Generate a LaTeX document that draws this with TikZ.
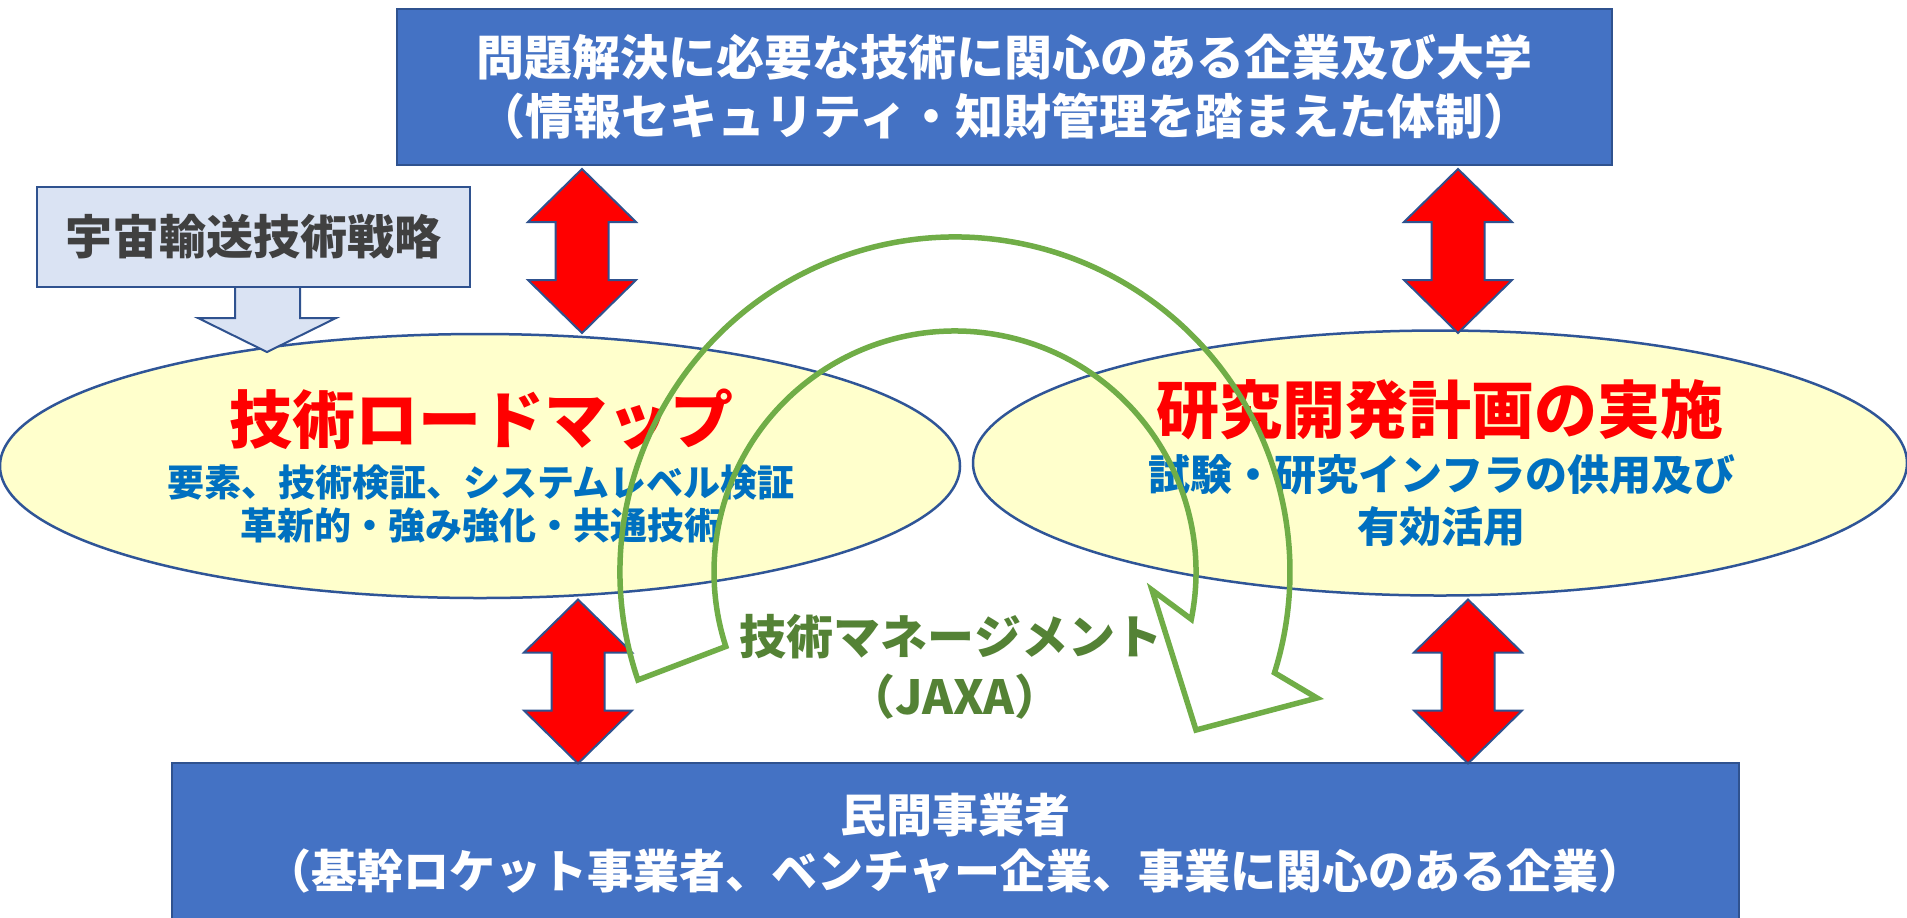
\documentclass[tikz,border=0pt]{standalone}
\usepackage{fontspec}
\setmainfont{Noto Sans CJK JP}
\usetikzlibrary{shapes.geometric,calc}
\definecolor{boxblue}{HTML}{4472C4}
\definecolor{boxline}{HTML}{2F528F}
\definecolor{ellfill}{HTML}{FFFFCC}
\definecolor{ellline}{HTML}{2F5597}
\definecolor{txtblue}{HTML}{0070C0}
\definecolor{gline}{HTML}{70AD47}
\definecolor{gtext}{HTML}{548235}
\definecolor{stratfill}{HTML}{DAE3F3}
\definecolor{strattext}{HTML}{404040}
\begin{document}
\begin{tikzpicture}[x=0.5pt,y=-0.5pt,
  bluebox/.style={draw=boxline, fill=boxblue, line width=1pt, inner sep=0pt},
  whitetxt/.style={text=white, align=center, inner sep=0pt, font=\fontsize{24pt}{29.5pt}\selectfont\bfseries},
  ellbox/.style={ellipse, draw=ellline, fill=ellfill, line width=1.25pt, inner sep=0pt},
  titletxt/.style={text=red, inner sep=0pt, font=\fontsize{31.5pt}{36pt}\selectfont\bfseries},
  subtxt/.style={text=txtblue, inner sep=0pt, font=\fontsize{18.5pt}{22pt}\selectfont\bfseries},
  redarrow/.style={fill=red, draw=boxline, line width=1pt, line join=miter},
  garrow/.style={draw=gline, line width=2.75pt, line join=miter},
  dblarrow/.pic={\draw[redarrow] (0,-82) -- (54,-29) -- (26.5,-29) -- (26.5,29) -- (54,29) -- (0,82) -- (-54,29) -- (-26.5,29) -- (-26.5,-29) -- (-54,-29) -- cycle;}
]
\useasboundingbox (0,0) rectangle (1907,917);
\fill[white] (0,0) rectangle (1907,917);

% boxes
\node[bluebox, minimum width=607.5pt, minimum height=78pt] (top) at (1004.5,87) {};
\node[whitetxt] (toptxt) at (top.center) {問題解決に必要な技術に関心のある企業及び大学\\（情報セキュリティ・知財管理を踏まえた体制）};

\node[bluebox, minimum width=783.5pt, minimum height=79.5pt] (bot) at (955.5,842.5) {};
\node[whitetxt, font=\fontsize{23pt}{28pt}\selectfont\bfseries] (bottxt) at (955,843) {民間事業者\\（基幹ロケット事業者、ベンチャー企業、事業に関心のある企業）};

% ellipses
\node[ellbox, minimum width=480pt, minimum height=132pt] (L) at (480,466) {};
\node[ellbox, minimum width=467pt, minimum height=132.5pt] (R) at (1440,463) {};

% red double arrows
\pic at (582,251) {dblarrow};
\pic at (1458,251) {dblarrow};
\pic at (578,681.5) {dblarrow};
\pic at (1468,681.5) {dblarrow};

% strategy box and arrow
\draw[fill=stratfill, draw=boxline, line width=1pt, line join=miter]
  (235,280) -- (235,318) -- (198,318) -- (267,352) -- (336,318) -- (300,318) -- (300,280) -- cycle;
\node[draw=boxline, fill=stratfill, line width=1pt, minimum width=216.5pt, minimum height=50pt, inner sep=0pt] (strat) at (253.5,237) {};
\node[text=strattext, inner sep=0pt, font=\fontsize{23.5pt}{28pt}\selectfont\bfseries] (strattxt) at (strat.center) {宇宙輸送技術戦略};

% ellipse texts
\node[titletxt] (L1) at (481,419) {技術ロードマップ};
\node[subtxt] (L2) at (481,483) {要素、技術検証、システムレベル検証};
\node[subtxt] (L3) at (481,525) {革新的・強み強化・共通技術};
\node[titletxt] (R1) at (1440,410) {研究開発計画の実施};
\node[subtxt, font=\fontsize{21pt}{25pt}\selectfont\bfseries] (R2) at (1442,475) {試験・研究インフラの供用及び};
\node[subtxt, font=\fontsize{21pt}{25pt}\selectfont\bfseries] (R3) at (1441,527) {有効活用};

% green circular arrow
\coordinate (gc) at (955,572);
\draw[garrow] ([shift={(198.8:167.5pt)}]gc) arc[start angle=198.8, end angle=-17.5, radius=167.5pt]
  -- (1317,698) -- (1196,730) -- (1152,590)
  -- ([shift={(-11.3:120.5pt)}]gc) arc[start angle=-11.3, end angle=198, radius=120.5pt] -- cycle;

\node[text=gtext, inner sep=0pt, font=\fontsize{23.5pt}{28pt}\selectfont\bfseries] (mg1) at (951,637) {技術マネージメント};
\node[text=gtext, inner sep=0pt, font=\fontsize{23.5pt}{28pt}\selectfont\bfseries] (mg2) at (955,697) {（JAXA）};
\end{tikzpicture}
\end{document}
